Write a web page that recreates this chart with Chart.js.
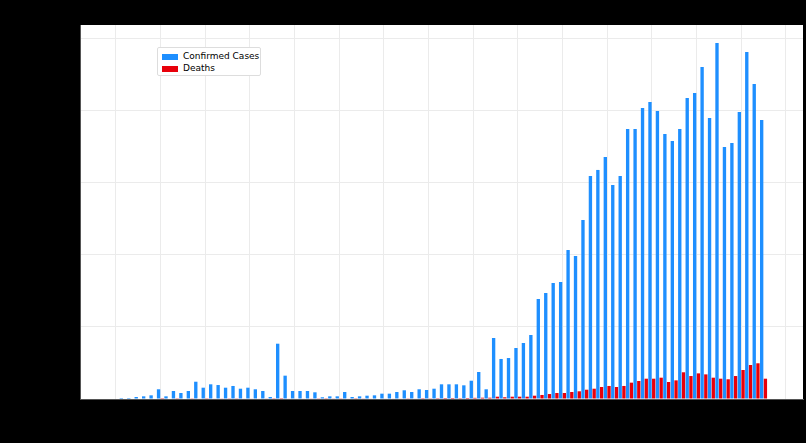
<!DOCTYPE html>
<html><head><meta charset="utf-8">
<script src="https://cdn.jsdelivr.net/npm/chart.js@4"></script>
<style>html,body{margin:0;background:#000;}#wrap{position:relative;width:806px;height:443px;}
#leg{position:absolute;left:157px;top:47px;width:104px;height:29px;background:#fff;border:1px solid #ddd;border-radius:2px;font:9px "DejaVu Sans",sans-serif;color:#000;padding:2px 4px;box-sizing:border-box;white-space:nowrap;}
#leg div{height:12px;line-height:12px;}#leg span{display:inline-block;width:16px;height:6px;margin-right:5px;vertical-align:middle;}
</style></head><body><div id="wrap"><canvas id="c" width="806" height="443"></canvas>
<div id="leg"><div><span style="background:#1e8fff"></span>Confirmed Cases</div><div><span style="background:#e8000b"></span>Deaths</div></div></div>
<script>
const confirmed=[14,14,28,37,51,135,37,111,83,111,240,157,204,194,157,181,143,157,135,111,28,768,324,111,111,111,93,24,37,37,97,28,37,46,51,74,74,97,121,97,135,125,143,204,204,204,190,254,375,135,
847,556,569,708,778,889,1389,1472,1611,1625,2069,1986,2486,3097,3181,3361,2972,3097,3750,3750,4042,4125,4000,3681,3583,3750,4181,4250,4611,3903,4944,3500,3556,3986,4819,4375,3875];
const deaths=[0,0,0,0,0,2,0,3,0,4,6,3,8,5,4,10,6,8,6,5,3,12,8,6,6,5,4,3,5,4,6,3,5,6,7,6,6,8,10,8,12,10,12,14,14,12,14,16,18,18,
32,24,32,32,32,46,56,69,83,83,97,107,129,143,167,181,167,181,227,250,282,282,296,236,259,371,319,356,342,296,282,274,319,403,472,496,282];
const yTicks=[0,1000,2000,3000,4000,5000];
const xGrid=[-1,5,11,17,23,29,35,41,47,53,59,65,71,77,83,89];
const bg={id:'bg',beforeDraw(ch){const a=ch.chartArea,c=ch.ctx;c.save();c.fillStyle='#fff';c.fillRect(a.left,a.top,a.right-a.left,a.bottom-a.top);c.restore();}};
new Chart(document.getElementById('c'),{type:'bar',
data:{datasets:[
{label:'Confirmed Cases',data:confirmed.map((v,i)=>({x:i,y:v})),backgroundColor:'#1e8fff',barPercentage:0.9,categoryPercentage:1},
{label:'Deaths',data:deaths.map((v,i)=>({x:i,y:v})),backgroundColor:'#e8000b',barPercentage:0.9,categoryPercentage:1}]},
options:{responsive:false,animation:false,layout:{padding:{left:80,top:25,right:3,bottom:44}},
plugins:{legend:{display:false},tooltip:{enabled:false}},
scales:{x:{type:'linear',offset:false,min:-5.8,max:91.3,ticks:{display:false},afterBuildTicks(s){s.ticks=xGrid.map(v=>({value:v}));},grid:{color:'#ebebeb',drawTicks:false,offset:false},border:{color:'#555'}},
y:{min:0,max:5194,ticks:{display:false},afterBuildTicks(s){s.ticks=yTicks.map(v=>({value:v}));},grid:{color:'#ebebeb',drawTicks:false},border:{color:'#555'}}}},
plugins:[bg]});
</script></body></html>
